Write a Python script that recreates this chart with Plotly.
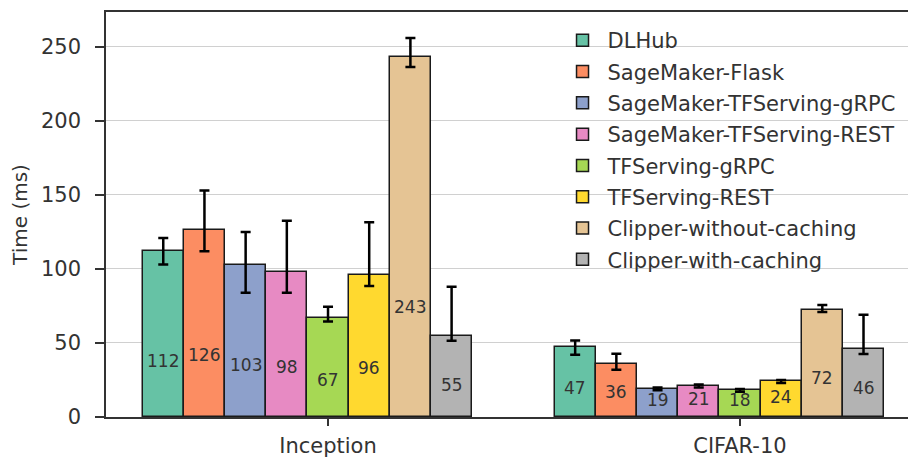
import plotly.graph_objects as go

categories = ["Inception", "CIFAR-10"]
series = ["DLHub", "SageMaker-Flask", "SageMaker-TFServing-gRPC", "SageMaker-TFServing-REST",
          "TFServing-gRPC", "TFServing-REST", "Clipper-without-caching", "Clipper-with-caching"]
colors = ["#66c2a5", "#fc8d62", "#8da0cb", "#e78ac3", "#a6d854", "#ffd92f", "#e5c494", "#b3b3b3"]

# values per series: [Inception, CIFAR-10]
values = [
    [112, 47],
    [126, 36],
    [103, 19],
    [98, 21],
    [67, 18],
    [96, 24],
    [243, 72],
    [55, 46],
]
err_high = [
    [121, 51.6],
    [153, 42.8],
    [125, 20],
    [132.5, 22],
    [74.5, 19],
    [131.5, 25],
    [256, 75.7],
    [88, 69],
]
err_low = [
    [103, 42],
    [112, 32],
    [84, 18],
    [84, 20],
    [64.5, 17],
    [88.5, 23],
    [236.5, 71],
    [51.5, 42.6],
]

bar_w = 0.1
center_idx = 4

fig = go.Figure()
annotations = []
for i, name in enumerate(series):
    xs = [c + (i - center_idx) * bar_w for c in range(len(categories))]
    vals = values[i]
    plus = [h - v for h, v in zip(err_high[i], vals)]
    minus = [v - l for l, v in zip(err_low[i], vals)]
    fig.add_trace(go.Bar(
        x=xs, y=vals, width=bar_w, name=name, legendgroup=name,
        marker=dict(color=colors[i], line=dict(color="#1a1a1a", width=1.5)),
        error_y=dict(type="data", symmetric=False, array=plus, arrayminus=minus,
                     color="black", thickness=2.5, width=5),
    ))
    for x, v in zip(xs, vals):
        annotations.append(dict(x=x, y=0.28 * v + 6.5, text=str(v), showarrow=False,
                                xref="x", yref="y", yanchor="middle",
                                font=dict(size=17, color="#333333")))

fig.update_layout(
    width=908, height=460,
    margin=dict(l=106, r=0, t=12, b=43, autoexpand=False),
    paper_bgcolor="white", plot_bgcolor="white",
    font=dict(family="DejaVu Sans", size=20, color="#333333"),
    showlegend=True,
    legend=dict(x=0.563, y=0.98, xanchor="left", yanchor="top",
                bgcolor="rgba(0,0,0,0)", font=dict(size=21, color="#333333"),
                itemwidth=40, traceorder="grouped", tracegroupgap=1),
    annotations=annotations,
    bargap=0,
)
fig.update_xaxes(
    range=[-0.539, 1.408], tickvals=[0, 1], ticktext=categories,
    showgrid=False, zeroline=False, showline=True, linecolor="#333333", linewidth=1.5,
    mirror=True, ticks="outside", ticklen=7, tickcolor="#333333", tickwidth=1.5,
    tickfont=dict(size=21, color="#333333"), automargin=False, ticklabelstandoff=2,
)
fig.update_yaxes(
    range=[0, 273.6], tickvals=[0, 50, 100, 150, 200, 250],
    showgrid=True, gridcolor="#d0d0d0", gridwidth=1, zeroline=False,
    showline=True, linecolor="#333333", linewidth=1.5, mirror=False,
    ticks="outside", ticklen=9, tickcolor="#333333", tickwidth=1.5,
    tickfont=dict(size=21, color="#333333"), automargin=False, ticklabelstandoff=10,
    title=dict(text="Time (ms)", font=dict(size=20, color="#333333"), standoff=8),
)

fig.write_html("out.html", config={"displayModeBar": False},
               post_script="document.body.style.margin='0';")
